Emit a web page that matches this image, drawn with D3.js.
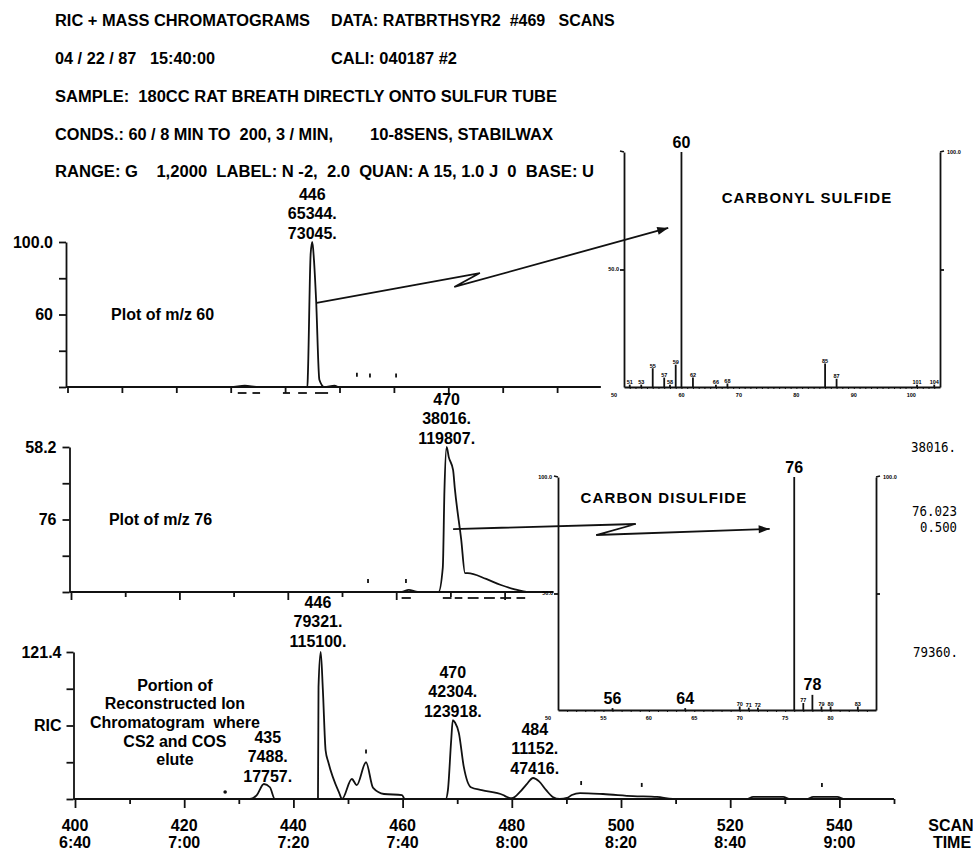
<!DOCTYPE html>
<html><head><meta charset="utf-8">
<script src="https://cdn.jsdelivr.net/npm/d3@7"></script>
<style>
html,body{margin:0;padding:0;background:#fff;}
svg text{font-family:"Liberation Sans",Arial,Helvetica,sans-serif;fill:#000;}
</style></head><body>
<script>
// ---------------- DATA ----------------
const headerRows = [
  ["RIC + MASS CHROMATOGRAMS", "DATA: RATBRTHSYR2  #469   SCANS"],
  ["04 / 22 / 87   15:40:00", "CALI: 040187 #2"],
  ["SAMPLE:  180CC RAT BREATH DIRECTLY ONTO SULFUR TUBE"],
  ["CONDS.: 60 / 8 MIN TO  200, 3 / MIN,", "10-8SENS, STABILWAX"],
  ["RANGE: G    1,2000  LABEL: N -2,  2.0  QUAN: A 15, 1.0 J  0  BASE: U"]
];
const scanDomain = [400, 550];
const scanTicks = [400, 420, 440, 460, 480, 500, 520, 540];
const timeLabels = ["6:40", "7:00", "7:20", "7:40", "8:00", "8:20", "8:40", "9:00"];
const minorScanTicks = [410, 430, 450, 470, 490, 510, 530, 550];
const pctTicks = [0, 25, 50, 75, 100];

// m/z 60 trace (scan, % of 100.0 full scale)
const mz60Trace = [[400,0],[430,0],[432.6,1],[435,0],[444.1,0],[444.2,10],[444.7,92],[445.0,100],[445.3,88],[445.7,60],[446.3,5],[447.2,0],[449.1,1],[449.8,0],[498,0]];
const mz60Marks = [[453.2,7],[455.6,6.5],[460.4,6.5]];
const mz60Dashes = [[431.3,432.9],[434,435.4],[439.6,440.9],[442.4,444],[445.5,447.9]];
const mz60YLabels = {100: "100.0", 50: "60"};
const mz60PeakLabel = {scan: 445.0, value: 100, lines: ["446", "65344.", "73045."]};

// m/z 76 trace (scan, % of 58.2 full scale)
const mz76Trace = [[400,0],[461,0],[462.3,1.5],[464,0],[467.8,0],[468.6,17],[468.9,70],[469.3,100],[469.7,93],[470.5,84],[470.8,72],[472,36],[472.7,13],[473.2,13],[476.6,9],[479.2,5],[481.7,2],[484.5,0],[489,0]];
const mz76Marks = [[454.8,6.2],[461.8,6.2]];
const mz76Dashes = [[461,462.7],[468.6,470.2],[470.8,472.2],[473.2,475.2],[476.2,478.2],[479.2,481.2],[482.2,483.8]];
const mz76YLabels = {100: "58.2", 50: "76"};
const mz76PeakLabel = {scan: 469.3, value: 100, lines: ["470", "38016.", "119807."]};

// RIC trace (scan, % of 121.4 full scale)
const ricTrace = [[400,0],[432,0],[433.3,2.7],[434.6,10.2],[435.7,8],[436.6,0],[444.5,0],[444.6,76],[445.0,100],[445.4,74],[445.9,33],[446.4,25],[448.4,4],[448.9,0],[450.7,13.6],[451.6,9.5],[453.3,25],[454.6,7.5],[456.6,3.4],[459.9,2.7],[460.4,0],[467.9,0],[468.3,6],[468.9,40],[469.2,53.7],[469.6,52],[470.3,45],[471.2,22],[472.5,8],[474.5,6],[478.4,2.7],[479.1,1.4],[480,0.5],[481.5,4.8],[482.7,10],[483.9,14.3],[485,12],[486.3,6],[487.5,1.4],[488.8,0],[490.1,0.7],[491,2.7],[492.5,4],[496.7,3.4],[502.2,2],[506.6,1.4],[509.5,0],[523,0],[524.2,1.4],[529.7,1.4],[531,0],[534,0],[535.2,1.4],[539.6,1.4],[541,0],[550,0]];
const ricMarks = [[453.3,31],[492.7,9.5],[503.8,8.2],[536.8,8.2]];
const ricDots = [[427.5,4.8]];
const ricYLabels = {100: "121.4", 50: "RIC"};
const ricPeakLabels = [
  {scan: 435.3, value: 10.2, lines: ["435", "7488.", "17757."]},
  {scan: 444.5, value: 100, lines: ["446", "79321.", "115100."]},
  {scan: 469.2, value: 53.7, lines: ["470", "42304.", "123918."]},
  {scan: 484.2, value: 14.3, lines: ["484", "11152.", "47416."]}
];
const ricNote = ["Portion of", "Reconstructed Ion", "Chromatogram  where", "CS2 and COS", "elute"];

// Mass spectrum inset 1: carbonyl sulfide
const cosMz  = [51, 53, 55, 57, 58, 59, 60, 62, 66, 68, 85, 87, 101, 104];
const cosInt = [1, 1, 8, 4, 1, 9.5, 100, 4, 1, 1.5, 10, 3.5, 1, 1];
const cosAxisLabels = [60, 70, 80, 90, 100];
// Mass spectrum inset 2: carbon disulfide
const cs2Mz  = [56, 64, 70, 71, 72, 76, 77, 78, 79, 80, 83];
const cs2Int = [0.8, 0.8, 1.5, 1, 1, 100, 3, 6.5, 1.5, 1.5, 1.5];
const cs2BigLabels = [56, 64, 76, 78];
const cs2AxisLabels = [55, 60, 65, 70, 75, 80];

// Arrows: start in chromatogram coords (scan, %), end in spectrum coords (m/z, %)
const cosArrowPts = [[445.8, 58], [475.8, 78.6], [471.1, 69]];
const cosArrowEnd = [57.7, 67.7];
const cs2ArrowPts = [[470.5, 43.4], [504.2, 46.9], [496.9, 39.3]];
const cs2ArrowEnd = [73.3, 77.7];

const sideLabels = ["38016.", "76.023", "0.500", "79360."];

// ---------------- DRAW ----------------
const svg = d3.select("body").append("svg").attr("width", 973).attr("height", 850);
const INK = "#111";
const FS = 16;

function txt(x, y, s, o = {}) {
  const t = svg.append("text").attr("x", x).attr("y", y).attr("dy", o.dy || "0.35em")
    .attr("text-anchor", o.anchor || "start").style("white-space", "pre")
    .attr("font-size", o.size || FS).attr("font-weight", o.weight || "bold")
    .text(s);
  if (o.len) t.attr("textLength", o.len).attr("lengthAdjust", "spacingAndGlyphs");
  if (o.ls) t.attr("letter-spacing", o.ls);
  if (o.family) t.style("font-family", o.family);
  return t;
}

// header
const rowY = [20.5, 58.5, 96, 134, 171.7];
const colX = [[55, 331], [55, 331], [55], [55, 370], [55]];
const colLen = [[255, null], [160, 126], [502], [278, 183], [539]];
headerRows.forEach((row, i) => row.forEach((s, j) => txt(colX[i][j], rowY[i], s, {len: colLen[i][j]})));

// scales
const x1 = d3.scaleLinear().domain(scanDomain).range([67.5, 883.5]);
const y1 = d3.scaleLinear().domain([0, 100]).range([387, 242]);
const x2 = d3.scaleLinear().domain(scanDomain).range([71, 884]);
const y2 = d3.scaleLinear().domain([0, 100]).range([592, 447]);
const x3 = d3.scaleLinear().domain(scanDomain).range([75, 894]);
const y3 = d3.scaleLinear().domain([0, 100]).range([799, 652]);

const line = (x, y) => d3.line().x(d => x(d[0])).y(d => y(d[1])).curve(d3.curveMonotoneX);

function styleAxis(g) {
  g.attr("color", INK).attr("font-size", FS).attr("font-family", null);
  g.selectAll("line,path").attr("stroke-width", 1.8);
  g.selectAll("text").attr("font-weight", "bold").attr("fill", "#000");
}

function panel(x, y, trace, marks, dashes, yLabels, axisEnd, majorTicks, minorTicks, majorLen, minorLen, pad) {
  const axisX = x(400) - 1.5;
  svg.append("g").attr("transform", `translate(${axisX},0)`)
    .call(d3.axisLeft(y).tickValues(pctTicks).tickSize(7).tickSizeOuter(0).tickPadding(pad)
      .tickFormat(d => yLabels[d] || ""))
    .call(styleAxis);
  svg.append("line").attr("x1", axisX).attr("x2", x(axisEnd)).attr("y1", y(0)).attr("y2", y(0))
    .attr("stroke", INK).attr("stroke-width", 1.8);
  [[majorTicks, majorLen], [minorTicks, minorLen]].forEach(([vals, len]) => {
    svg.append("g").attr("transform", `translate(0,${y(0)})`)
      .call(d3.axisBottom(x).tickValues(vals).tickSize(len).tickFormat(""))
      .call(g => g.select(".domain").remove()).call(styleAxis);
  });
  svg.append("path").datum(trace).attr("d", line(x, y)).attr("fill", "none")
    .attr("stroke", INK).attr("stroke-width", 1.8).attr("stroke-linejoin", "round");
  svg.selectAll(null).data(marks).enter().append("line")
    .attr("x1", d => x(d[0])).attr("x2", d => x(d[0]))
    .attr("y1", d => y(d[1])).attr("y2", d => y(d[1]) - 4)
    .attr("stroke", INK).attr("stroke-width", 1.8);
  svg.selectAll(null).data(dashes).enter().append("line")
    .attr("x1", d => x(d[0])).attr("x2", d => x(d[1]))
    .attr("y1", y(0) + 6).attr("y2", y(0) + 6)
    .attr("stroke", INK).attr("stroke-width", 1.8);
}

function peakLabel(x, y, lab, off) {
  const base = y(lab.value) - off;
  lab.lines.forEach((s, i) => txt(x(lab.scan), base - (lab.lines.length - 1 - i) * 19.2, s, {anchor: "middle"}));
}

// Panel 1: m/z 60
panel(x1, y1, mz60Trace, mz60Marks, mz60Dashes, mz60YLabels, 498,
  [400,410,420,430,440,450,460,470,480,490], [], 6, 0, 6);
peakLabel(x1, y1, mz60PeakLabel, 9);
txt(x1(408), y1(50), "Plot of m/z 60");

// Panel 2: m/z 76
panel(x2, y2, mz76Trace, mz76Marks, mz76Dashes, mz76YLabels, 489,
  [400,420,440,460,480], [410,430,450,470], 8, 5, 6);
peakLabel(x2, y2, mz76PeakLabel, 9);
txt(x2(407), y2(50), "Plot of m/z 76");

// Panel 3: RIC
panel(x3, y3, ricTrace, ricMarks, [], ricYLabels, 550, scanTicks, minorScanTicks, 9, 5, 5);
svg.selectAll(null).data(ricDots).enter().append("circle")
  .attr("cx", d => x3(d[0])).attr("cy", d => y3(d[1])).attr("r", 1.8).attr("fill", INK);
const ricLabelOffsets = [8, 11, 9, 10];
ricPeakLabels.forEach((l, i) => peakLabel(x3, y3, l, ricLabelOffsets[i]));
ricNote.forEach((s, i) => txt(x3(418.3), 685 + i * 18.7, s, {anchor: "middle"}));
scanTicks.forEach((v, i) => {
  txt(x3(v), y3(0) + 26, String(v), {anchor: "middle"});
  txt(x3(v), y3(0) + 43, timeLabels[i], {anchor: "middle"});
});
txt(951, y3(0) + 26, "SCAN", {anchor: "middle"});
txt(952, y3(0) + 43, "TIME", {anchor: "middle"});

// ---------------- Spectra insets ----------------
const xi1 = d3.scaleLinear().domain([50, 105]).range([624, 940]);
const yi1 = d3.scaleLinear().domain([0, 100]).range([387, 152]);
const xi2 = d3.scaleLinear().domain([50, 85]).range([558, 876]);
const yi2 = d3.scaleLinear().domain([0, 100]).range([710, 477]);

function tiny(x, y, s, anchor = "middle") {
  txt(x, y, s, {anchor, size: 5.5});
}

function inset(xs, ys, mz, inten, bigLabels, axisLabels, minTick, maxTick) {
  const [m0, m1] = xs.domain();
  svg.append("g").attr("transform", `translate(${xs(m0)},0)`)
    .call(d3.axisLeft(ys).tickValues([50]).tickSize(4).tickSizeOuter(0).tickFormat(""))
    .call(styleAxis);
  svg.append("g").attr("transform", `translate(${xs(m1)},0)`)
    .call(d3.axisRight(ys).tickValues([50]).tickSize(4).tickSizeOuter(0).tickFormat(""))
    .call(styleAxis);
  svg.append("g").attr("transform", `translate(0,${ys(0)})`)
    .call(d3.axisBottom(xs).tickValues(d3.range(minTick, maxTick + 1)).tickSize(2).tickSizeOuter(0).tickFormat(""))
    .call(styleAxis).call(g => g.selectAll(".tick line").attr("stroke-width", 1));
  svg.append("path").attr("d", `M${xs(m0) - 4},${ys(100) - 1}L${xs(m0)},${ys(100)}`).attr("stroke", INK).attr("stroke-width", 1.8);
  svg.append("path").attr("d", `M${xs(m1)},${ys(100)}L${xs(m1) + 4},${ys(100) - 1}`).attr("stroke", INK).attr("stroke-width", 1.8);
  const bars = mz.map((m, i) => ({m, v: inten[i]}));
  svg.selectAll(null).data(bars).enter().append("line")
    .attr("x1", d => xs(d.m)).attr("x2", d => xs(d.m))
    .attr("y1", ys(0)).attr("y2", d => ys(d.v))
    .attr("stroke", INK).attr("stroke-width", 1.8);
  bars.forEach(d => {
    if (bigLabels.includes(d.m)) txt(xs(d.m), ys(d.v) - 10, String(d.m), {anchor: "middle"});
    else tiny(xs(d.m), ys(d.v) - 2.5, String(d.m));
  });
  axisLabels.forEach(m => tiny(xs(m), ys(0) + 8, String(m)));
  tiny(xs(m0) - 10, ys(0) + 8, String(m0));
  tiny(xs(m0) - 5, ys(50), "50.0", "end");
  tiny(xs(m1) + 7, ys(100), "100.0", "start");
}

inset(xi1, yi1, cosMz, cosInt, [60], cosAxisLabels, 51, 104);
txt(807, 198, "CARBONYL SULFIDE", {anchor: "middle", size: 15, ls: 1.1});
inset(xi2, yi2, cs2Mz, cs2Int, cs2BigLabels, cs2AxisLabels, 51, 84);
tiny(xi2(50) - 6, yi2(100), "100.0", "end");
txt(664, 498, "CARBON DISULFIDE", {anchor: "middle", size: 15, ls: 1.1});

// arrows
function arrow(pts, end) {
  const path = d3.line()(pts.concat([end]));
  svg.append("path").attr("d", path).attr("fill", "none").attr("stroke", INK).attr("stroke-width", 1.8);
  const [ax, ay] = pts[pts.length - 1], [bx, by] = end;
  const ang = Math.atan2(by - ay, bx - ax), L = 11, Wd = 4;
  const p = [[bx, by],
    [bx - L * Math.cos(ang) + Wd * Math.sin(ang), by - L * Math.sin(ang) - Wd * Math.cos(ang)],
    [bx - L * Math.cos(ang) - Wd * Math.sin(ang), by - L * Math.sin(ang) + Wd * Math.cos(ang)]];
  svg.append("path").attr("d", "M" + p.join("L") + "Z").attr("fill", INK);
}
arrow(cosArrowPts.map(d => [x1(d[0]), y1(d[1])]), [xi1(cosArrowEnd[0]), yi1(cosArrowEnd[1])]);
arrow(cs2ArrowPts.map(d => [x2(d[0]), y2(d[1])]), [xi2(cs2ArrowEnd[0]), yi2(cs2ArrowEnd[1])]);

// right-side monospace annotations
const mono = {anchor: "end", size: 14, weight: "normal", family: "'DejaVu Sans Mono', monospace"};
txt(956, y2(100), sideLabels[0], {...mono, len: 45});
txt(957, y2(55.9), sideLabels[1], {...mono, len: 45});
txt(957, y2(44.8), sideLabels[2], {...mono, len: 37});
txt(958, y3(100), sideLabels[3], {...mono, len: 45});
</script>
</body></html>
